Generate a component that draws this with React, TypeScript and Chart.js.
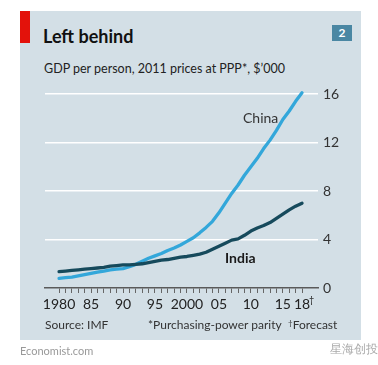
import React, { useEffect, useRef } from 'react';
import { Chart, registerables } from 'chart.js';

Chart.register(...registerables);

const years = [
  1980, 1981, 1982, 1983, 1984, 1985, 1986, 1987, 1988, 1989,
  1990, 1991, 1992, 1993, 1994, 1995, 1996, 1997, 1998, 1999,
  2000, 2001, 2002, 2003, 2004, 2005, 2006, 2007, 2008, 2009,
  2010, 2011, 2012, 2013, 2014, 2015, 2016, 2017, 2018,
];
const china = [
  0.8, 0.85, 0.9, 1.0, 1.1, 1.2, 1.3, 1.4, 1.5, 1.55,
  1.6, 1.75, 1.95, 2.2, 2.45, 2.65, 2.85, 3.1, 3.3, 3.55,
  3.85, 4.15, 4.55, 5.0, 5.5, 6.2, 7.0, 7.8, 8.5, 9.3,
  10.0, 10.7, 11.5, 12.2, 13.0, 13.9, 14.6, 15.4, 16.1,
];
const india = [
  1.35, 1.4, 1.45, 1.5, 1.55, 1.6, 1.65, 1.7, 1.8, 1.85,
  1.9, 1.9, 1.95, 2.0, 2.1, 2.2, 2.3, 2.35, 2.45, 2.55,
  2.6, 2.7, 2.8, 2.95, 3.2, 3.45, 3.7, 3.95, 4.05, 4.35,
  4.7, 4.95, 5.15, 5.4, 5.75, 6.1, 6.45, 6.75, 7.0,
];
const yTicks = [0, 4, 8, 12, 16];
const xLabelYears = [1980, 1985, 1990, 1995, 2000, 2005, 2010, 2015, 2018];
const xLabelText = ['1980', '85', '90', '95', '2000', '05', '10', '15', '18'];

const FONT = 'Lato, "Open Sans", sans-serif';

function LineChart() {
  const ref = useRef<HTMLCanvasElement>(null);
  useEffect(() => {
    if (!ref.current) return;
    const chart = new Chart(ref.current, {
      type: 'line',
      data: {
        datasets: [
          {
            label: 'India',
            data: years.map((y, i) => ({ x: y, y: india[i] })),
            borderColor: '#164a5c',
            borderWidth: 3.3,
            pointRadius: 0,
            tension: 0,
            borderCapStyle: 'round',
            borderJoinStyle: 'round',
          },
          {
            label: 'China',
            data: years.map((y, i) => ({ x: y, y: china[i] })),
            borderColor: '#33a7da',
            borderWidth: 3.3,
            pointRadius: 0,
            tension: 0,
            borderCapStyle: 'round',
            borderJoinStyle: 'round',
          },
        ],
      },
      options: {
        animation: false,
        responsive: false,
        maintainAspectRatio: false,
        layout: { padding: { left: 45, top: 88, right: 20, bottom: 47 } },
        plugins: { legend: { display: false }, tooltip: { enabled: false } },
        scales: {
          x: {
            type: 'linear',
            min: 1977.8,
            max: 2020.5,
            afterBuildTicks: (s: any) => {
              s.ticks = years.map((v) => ({ value: v }));
            },
            afterFit: (s: any) => {
              s.height = 30;
            },
            ticks: {
              autoSkip: false,
              maxRotation: 0,
              padding: 3,
              color: '#222',
              font: { family: FONT, size: 14 },
              callback: (v: any) => {
                const i = xLabelYears.indexOf(Number(v));
                return i >= 0 ? xLabelText[i] : '';
              },
            },
            grid: {
              drawOnChartArea: false,
              drawTicks: true,
              tickLength: 5,
              color: '#666',
              lineWidth: 1,
            },
            border: { display: true, color: '#5a5a5a', width: 1.5 },
          },
          y: {
            position: 'right',
            min: 0,
            max: 16.5,
            afterBuildTicks: (s: any) => {
              s.ticks = yTicks.map((v) => ({ value: v }));
            },
            afterFit: (s: any) => {
              s.width = 40;
            },
            ticks: {
              padding: 5,
              color: '#333',
              font: { family: FONT, size: 14 },
            },
            grid: {
              color: (c: any) => (c.tick && c.tick.value === 0 ? 'rgba(0,0,0,0)' : '#ffffff'),
              lineWidth: 1.5,
              drawTicks: false,
            },
            border: { display: false },
          },
        },
      },
    });
    return () => chart.destroy();
  }, []);
  return (
    <canvas
      ref={ref}
      width={378}
      height={365}
      style={{ position: 'absolute', left: 0, top: 0, width: 378, height: 365 }}
    />
  );
}

const abs = (l: number, t: number, extra: any = {}) => ({
  position: 'absolute' as const,
  left: l,
  top: t,
  lineHeight: 1,
  whiteSpace: 'nowrap' as const,
  fontFamily: FONT,
  ...extra,
});

export default function App() {
  return (
    <div style={{ position: 'fixed', left: 0, top: 0, width: 378, height: 365, background: '#ffffff', overflow: 'hidden' }}>
      <div style={{ position: 'absolute', left: 20, top: 11, width: 341, height: 329, background: '#d3dfe6' }} />
      <div style={{ position: 'absolute', left: 20, top: 11, width: 10, height: 32, background: '#e3120b' }} />
      <div style={abs(43, 27, { fontSize: 18, fontWeight: 700, color: '#111' })}>Left behind</div>
      <div style={abs(44, 63, { fontSize: 12.5, color: '#222' })}>GDP per person, 2011 prices at PPP*, $’000</div>
      <div
        style={{
          position: 'absolute', left: 332, top: 25, width: 20, height: 16, background: '#4a87a3',
          color: '#fff', fontFamily: FONT, fontWeight: 700, fontSize: 12, lineHeight: '16px', textAlign: 'center',
        }}
      >
        2
      </div>
      <LineChart />
      <div style={abs(243, 110.6, { fontSize: 14, color: '#333' })}>China</div>
      <div style={abs(225, 250.6, { fontSize: 14, fontWeight: 700, color: '#1a1a1a' })}>India</div>
      <div style={abs(309, 295, { fontSize: 9, color: '#222' })}>†</div>
      <div style={abs(45, 319.4, { fontSize: 12, color: '#333' })}>Source: IMF</div>
      <div style={abs(148, 319.4, { fontSize: 12, color: '#333' })}>*Purchasing-power parity</div>
      <div style={abs(288, 319.4, { fontSize: 12, color: '#333' })}>
        <span style={{ fontSize: 8, verticalAlign: 'top' }}>†</span>Forecast
      </div>
      <div style={abs(20, 345, { fontSize: 11, color: '#999' })}>Economist.com</div>
      <div style={abs(330, 343, { fontSize: 12, color: '#aaa' })}>星海创投</div>
    </div>
  );
}
